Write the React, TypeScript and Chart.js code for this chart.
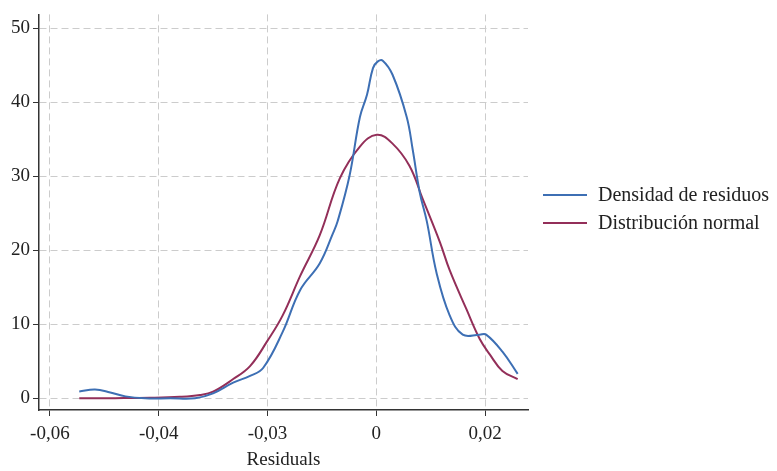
import React, { useEffect, useRef } from "react";
import { Chart, registerables } from "chart.js";

Chart.register(...registerables);

// Kernel density of residuals
const densityX = [-0.0546, -0.0517, -0.0489, -0.0461, -0.0425, -0.0379, -0.0333, -0.03, -0.0263, -0.0232, -0.0208, -0.0172, -0.014, -0.0104, -0.008, -0.0071, -0.0049, -0.003, -0.0017, -0.0006, 0.0003, 0.0012, 0.003, 0.0056, 0.0067, 0.008, 0.0093, 0.0111, 0.0135, 0.0159, 0.019, 0.0202, 0.0232, 0.026];
const densityY = [0.92, 1.19, 0.79, 0.26, 0.0, 0.0, 0.0, 0.66, 2.11, 3.03, 4.09, 8.97, 14.6, 18.2, 22.2, 23.9, 30.1, 38.0, 41.0, 44.6, 45.5, 45.6, 43.7, 38.0, 33.6, 27.8, 23.9, 16.9, 11.2, 8.6, 8.6, 8.6, 6.3, 3.3];

// Normal distribution overlay
const normalX = [-0.0546, -0.048, -0.0416, -0.0361, -0.0324, -0.03, -0.0263, -0.0232, -0.0201, -0.0172, -0.014, -0.0104, -0.0067, -0.003, 0.0001, 0.003, 0.0061, 0.0085, 0.0117, 0.0135, 0.0166, 0.019, 0.0209, 0.0232, 0.026];
const normalY = [0.0, 0.02, 0.07, 0.2, 0.45, 0.9, 2.6, 4.35, 7.65, 11.2, 16.5, 22.0, 29.7, 34.0, 35.6, 34.4, 31.4, 27.0, 21.1, 17.3, 12.0, 8.05, 5.9, 3.7, 2.6];

const xTickValues = [-0.06, -0.04, -0.02, 0, 0.02];
const xTickLabels = ["-0,06", "-0,04", "-0,03", "0", "0,02"];
const yTickValues = [0, 10, 20, 30, 40, 50];

const seriesNames = ["Densidad de residuos", "Distribución normal"];
const seriesColors = ["#3d6fb4", "#932f59"];
const xTitle = "Residuals";

const FONT = "'Liberation Serif', 'DejaVu Serif', serif";

export default function App() {
  const ref = useRef<HTMLCanvasElement | null>(null);

  useEffect(() => {
    if (!ref.current) return;
    const legendPlugin = {
      id: "customLegend",
      afterDraw(chart: any) {
        const ctx = chart.ctx;
        ctx.save();
        const x0 = 543;
        const ys = [195, 223];
        seriesNames.forEach((name, i) => {
          ctx.strokeStyle = seriesColors[i];
          ctx.lineWidth = 2;
          ctx.beginPath();
          ctx.moveTo(x0, ys[i]);
          ctx.lineTo(x0 + 44, ys[i]);
          ctx.stroke();
          ctx.fillStyle = "#222";
          ctx.font = `20px ${FONT}`;
          ctx.textBaseline = "middle";
          ctx.textAlign = "left";
          ctx.fillText(name, 598, ys[i] + 1);
        });
        ctx.restore();
      },
    };

    const chart = new Chart(ref.current, {
      type: "line",
      data: {
        datasets: [
          {
            label: seriesNames[0],
            data: densityX.map((x, i) => ({ x, y: densityY[i] })),
            borderColor: seriesColors[0],
            borderWidth: 2,
            pointRadius: 0,
            tension: 0.4,
            fill: false,
          },
          {
            label: seriesNames[1],
            data: normalX.map((x, i) => ({ x, y: normalY[i] })),
            borderColor: seriesColors[1],
            borderWidth: 2,
            pointRadius: 0,
            tension: 0.4,
            fill: false,
          },
        ],
      },
      options: {
        animation: false,
        responsive: false,
        maintainAspectRatio: false,
        layout: { padding: { left: 0, right: 249, top: 5, bottom: 0 } },
        plugins: {
          legend: { display: false },
          tooltip: { enabled: false },
        },
        scales: {
          x: {
            type: "linear",
            min: -0.062,
            max: 0.0279,
            afterBuildTicks: (axis: any) => {
              axis.ticks = xTickValues.map((v) => ({ value: v }));
            },
            afterFit: (axis: any) => {
              axis.height = 61;
            },
            ticks: {
              autoSkip: false,
              maxRotation: 0,
              color: "#222",
              font: { family: FONT, size: 19 },
              padding: 7,
              callback: (v: any) => {
                const idx = xTickValues.findIndex((t) => Math.abs(t - Number(v)) < 1e-9);
                return idx >= 0 ? xTickLabels[idx] : "";
              },
            },
            grid: {
              color: "#cccccc",
              lineWidth: 1,
              drawTicks: true,
              tickLength: 6,
              tickColor: "#333",
              tickBorderDash: [],
            } as any,
            border: { display: true, color: "#333", width: 1.5, dash: [7, 4] } as any,
            title: {
              display: true,
              text: xTitle,
              color: "#222",
              font: { family: FONT, size: 19 },
              padding: { top: 0, bottom: 0 },
            },
          },
          y: {
            type: "linear",
            min: -1.58,
            max: 51.85,
            afterBuildTicks: (axis: any) => {
              axis.ticks = yTickValues.map((v) => ({ value: v }));
            },
            afterFit: (axis: any) => {
              axis.width = 39;
            },
            ticks: {
              color: "#222",
              font: { family: FONT, size: 19 },
              padding: 3,
            },
            grid: {
              color: "#cccccc",
              lineWidth: 1,
              tickLength: 6,
              tickColor: "#333",
              tickBorderDash: [],
            } as any,
            border: { display: true, color: "#333", width: 1.5, dash: [7, 4] } as any,
          },
        },
      },
      plugins: [legendPlugin],
    });
    return () => chart.destroy();
  }, []);

  return (
    <div style={{ position: "fixed", left: 0, top: 0, width: 777, height: 471, background: "#fff" }}>
      <canvas ref={ref} width={777} height={471} style={{ width: 777, height: 471 }} />
    </div>
  );
}
